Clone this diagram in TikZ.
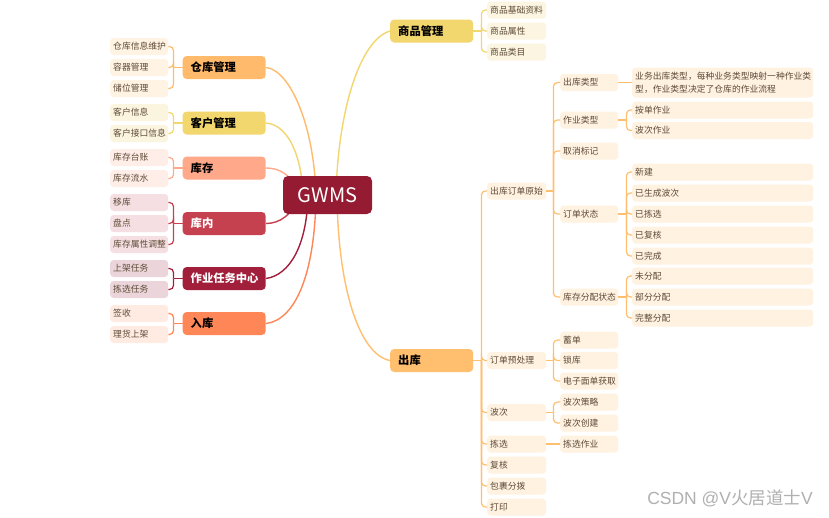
\documentclass[tikz,border=0pt]{standalone}
\usepackage{fontspec}
\setmainfont{Noto Sans CJK SC}
\newfontfamily\wmlatin{Liberation Sans}
\definecolor{cRoot}{HTML}{951B32}
\definecolor{cCK}{HTML}{FFBA6C}
\definecolor{cCKl}{HTML}{FFF3E3}
\definecolor{cKH}{HTML}{F2D66E}
\definecolor{cKHl}{HTML}{FBF5E0}
\definecolor{cKC}{HTML}{FFA98A}
\definecolor{cKCl}{HTML}{FFEEE8}
\definecolor{cKN}{HTML}{C5414F}
\definecolor{cKNl}{HTML}{F5DFE2}
\definecolor{cZY}{HTML}{A11F3B}
\definecolor{cZYl}{HTML}{ECD5DA}
\definecolor{cRK}{HTML}{FF8656}
\definecolor{cRKl}{HTML}{FFEBE2}
\definecolor{cSP}{HTML}{F2D66E}
\definecolor{cSPl}{HTML}{FBF5E1}
\definecolor{cCH}{HTML}{FFBF6F}
\definecolor{cCHl}{HTML}{FFF2E1}
\definecolor{cTxt}{HTML}{5E4A36}
\definecolor{cWm}{HTML}{B0B0B0}
\tikzset{
  rootbox/.style={fill=cRoot, text=white, rounded corners=5pt, minimum width=89pt, minimum height=38pt, inner sep=0pt, font=\fontsize{20}{24}\selectfont},
  lvone/.style={rounded corners=4pt, minimum height=23pt, inner xsep=8pt, inner ysep=0pt, text width=67pt, align=left, anchor=west, font=\fontsize{11.3}{13}\selectfont\bfseries},
  leaf/.style={rounded corners=3.5pt, minimum height=17pt, inner xsep=3pt, inner ysep=0pt, text width=#1, align=left, anchor=west, text=cTxt, font=\fontsize{8.8}{10}\selectfont},
  leaf/.default=52pt,
  curv/.style={line width=1.4pt},
  brk/.style={line width=1.2pt, rounded corners=4pt},
}
\begin{document}
\begin{tikzpicture}[x=1pt,y=-1pt]
\useasboundingbox (0,0) rectangle (829,517);
\fill[white] (0,0) rectangle (829,517);

% main curves
\draw[curv, cSP] (336,195) .. controls (338,110) and (360,40) .. (390,31);
\draw[curv, cCH] (337,195) .. controls (338,290) and (360,355) .. (390,360.5);
\draw[curv, cCK] (316,195) .. controls (314,125) and (290,70) .. (266,67.5);
\draw[curv, cKH] (303,195) .. controls (302,160) and (290,125) .. (266,123);
\draw[curv, cKC] (300,195) .. controls (292,175) and (280,168) .. (266,168);
\draw[curv, cKN] (300,195) .. controls (292,215) and (280,223.5) .. (266,223.5);
\draw[curv, cZY] (308,195) .. controls (307,245) and (290,275) .. (266,278.5);
\draw[curv, cRK] (316,195) .. controls (315,275) and (295,320) .. (266,323.5);

\node[rootbox] (root) at (327.5,195) {GWMS};

% level one
\node[lvone, fill=cCK] (ck) at (182.5,67.5) {仓库管理};
\node[lvone, fill=cKH] (kh) at (182.5,123) {客户管理};
\node[lvone, fill=cKC] (kc) at (182.5,168) {库存};
\node[lvone, fill=cKN, text=white] (kn) at (182.5,223.5) {库内};
\node[lvone, fill=cZY, text=white] (zy) at (182.5,278.5) {作业任务中心};
\node[lvone, fill=cRK] (rk) at (182.5,323.5) {入库};
\node[lvone, fill=cSP] (sp) at (390,31) {商品管理};
\node[lvone, fill=cCH] (ch) at (390,360.5) {出库};

% left leaves
\node[leaf, fill=cCKl] (ck1) at (110,46.5) {仓库信息维护};
\node[leaf, fill=cCKl] (ck2) at (110,67.5) {容器管理};
\node[leaf, fill=cCKl] (ck3) at (110,88.5) {储位管理};
\node[leaf, fill=cKHl] (kh1) at (110,112.5) {客户信息};
\node[leaf, fill=cKHl] (kh2) at (110,133.5) {客户接口信息};
\node[leaf, fill=cKCl] (kc1) at (110,157.5) {库存台账};
\node[leaf, fill=cKCl] (kc2) at (110,178.5) {库存流水};
\node[leaf, fill=cKNl] (kn1) at (110,202.5) {移库};
\node[leaf, fill=cKNl] (kn2) at (110,223.5) {盘点};
\node[leaf, fill=cKNl] (kn3) at (110,244.5) {库存属性调整};
\node[leaf, fill=cZYl] (zy1) at (110,268.5) {上架任务};
\node[leaf, fill=cZYl] (zy2) at (110,289.5) {拣选任务};
\node[leaf, fill=cRKl] (rk1) at (110,313.5) {签收};
\node[leaf, fill=cRKl] (rk2) at (110,334.5) {理货上架};

% right: 商品管理
\node[leaf=53pt, fill=cSPl] (sp1) at (487,10) {商品基础资料};
\node[leaf=53pt, fill=cSPl] (sp2) at (487,31) {商品属性};
\node[leaf=53pt, fill=cSPl] (sp3) at (487,52) {商品类目};

% right: 出库 level 2
\node[leaf=53pt, fill=cCHl] (ch1) at (487,191) {出库订单原始};
\node[leaf=53pt, fill=cCHl] (ch2) at (487,360.5) {订单预处理};
\node[leaf=53pt, fill=cCHl] (ch3) at (487,412.5) {波次};
\node[leaf=53pt, fill=cCHl] (ch4) at (487,444) {拣选};
\node[leaf=53pt, fill=cCHl] (ch5) at (487,465) {复核};
\node[leaf=53pt, fill=cCHl] (ch6) at (487,486) {包裹分拨};
\node[leaf=53pt, fill=cCHl] (ch7) at (487,507) {打印};

% level 3
\node[leaf, fill=cCHl] (a1) at (560,82.5) {出库类型};
\node[leaf, fill=cCHl] (a2) at (560,120) {作业类型};
\node[leaf, fill=cCHl] (a3) at (560,151) {取消标记};
\node[leaf, fill=cCHl] (a4) at (560,214) {订单状态};
\node[leaf, fill=cCHl] (a5) at (560,297) {库存分配状态};
\node[leaf, fill=cCHl] (b1) at (560,340) {蓄单};
\node[leaf, fill=cCHl] (b2) at (560,360.5) {锁库};
\node[leaf, fill=cCHl] (b3) at (560,381) {电子面单获取};
\node[leaf, fill=cCHl] (c1) at (560,402) {波次策略};
\node[leaf, fill=cCHl] (c2) at (560,423) {波次创建};
\node[leaf, fill=cCHl] (d1) at (560,444) {拣选作业};

% level 4
\node[leaf=175pt, fill=cCHl, minimum height=30pt, font=\fontsize{8.8}{12.5}\selectfont] (a1x) at (632,82.5) {业务出库类型，每种业务类型映射一种作业类\\型，作业类型决定了仓库的作业流程};
\node[leaf=175pt, fill=cCHl] (e1) at (632,110) {按单作业};
\node[leaf=175pt, fill=cCHl] (e2) at (632,130.5) {波次作业};
\node[leaf=175pt, fill=cCHl] (f1) at (632,172) {新建};
\node[leaf=175pt, fill=cCHl] (f2) at (632,193) {已生成波次};
\node[leaf=175pt, fill=cCHl] (f3) at (632,214) {已拣选};
\node[leaf=175pt, fill=cCHl] (f4) at (632,235) {已复核};
\node[leaf=175pt, fill=cCHl] (f5) at (632,256) {已完成};
\node[leaf=175pt, fill=cCHl] (g1) at (632,276) {未分配};
\node[leaf=175pt, fill=cCHl] (g2) at (632,297) {部分分配};
\node[leaf=175pt, fill=cCHl] (g3) at (632,318) {完整分配};

% brackets left
\draw[brk, cCK] (ck.west) -- ([xshift=-9pt]ck.west);
\foreach \c in {ck1,ck2,ck3} \draw[brk, cCK] ([xshift=-9pt]ck.west) |- (\c.east);
\draw[brk, cKH] (kh.west) -- ([xshift=-9pt]kh.west);
\foreach \c in {kh1,kh2} \draw[brk, cKH] ([xshift=-9pt]kh.west) |- (\c.east);
\draw[brk, cKC] (kc.west) -- ([xshift=-9pt]kc.west);
\foreach \c in {kc1,kc2} \draw[brk, cKC] ([xshift=-9pt]kc.west) |- (\c.east);
\draw[brk, cKN] (kn.west) -- ([xshift=-9pt]kn.west);
\foreach \c in {kn1,kn2,kn3} \draw[brk, cKN] ([xshift=-9pt]kn.west) |- (\c.east);
\draw[brk, cZY] (zy.west) -- ([xshift=-9pt]zy.west);
\foreach \c in {zy1,zy2} \draw[brk, cZY] ([xshift=-9pt]zy.west) |- (\c.east);
\draw[brk, cRK] (rk.west) -- ([xshift=-9pt]rk.west);
\foreach \c in {rk1,rk2} \draw[brk, cRK] ([xshift=-9pt]rk.west) |- (\c.east);

% brackets right
\draw[brk, cSP] (sp.east) -- ([xshift=8pt]sp.east);
\foreach \c in {sp1,sp2,sp3} \draw[brk, cSP] ([xshift=8pt]sp.east) |- (\c.west);
\draw[brk, cCH] (ch.east) -- ([xshift=8pt]ch.east);
\foreach \c in {ch1,ch2,ch3,ch4,ch5,ch6,ch7} \draw[brk, cCH] ([xshift=8pt]ch.east) |- (\c.west);
\draw[brk, cCH] (ch1.east) -- ([xshift=7pt]ch1.east);
\foreach \c in {a1,a2,a3,a4,a5} \draw[brk, cCH] ([xshift=7pt]ch1.east) |- (\c.west);
\draw[brk, cCH] (ch2.east) -- ([xshift=7pt]ch2.east);
\foreach \c in {b1,b2,b3} \draw[brk, cCH] ([xshift=7pt]ch2.east) |- (\c.west);
\draw[brk, cCH] (ch3.east) -- ([xshift=7pt]ch3.east);
\foreach \c in {c1,c2} \draw[brk, cCH] ([xshift=7pt]ch3.east) |- (\c.west);
\draw[brk, cCH] (ch4.east) -- (d1.west);
\draw[brk, cCH] (a1.east) -- (a1x.west);
\draw[brk, cCH] (a2.east) -- ([xshift=8pt]a2.east);
\foreach \c in {e1,e2} \draw[brk, cCH] ([xshift=8pt]a2.east) |- (\c.west);
\draw[brk, cCH] (a4.east) -- ([xshift=8pt]a4.east);
\foreach \c in {f1,f2,f3,f4,f5} \draw[brk, cCH] ([xshift=8pt]a4.east) |- (\c.west);
\draw[brk, cCH] (a5.east) -- ([xshift=8pt]a5.east);
\foreach \c in {g1,g2,g3} \draw[brk, cCH] ([xshift=8pt]a5.east) |- (\c.west);

% watermark
\node[anchor=east, text=cWm, inner sep=0pt, font=\fontsize{17.5}{20}\selectfont] (wm) at (813,498) {{\wmlatin CSDN @V}火居道士{\wmlatin V}};
\end{tikzpicture}
\end{document}
